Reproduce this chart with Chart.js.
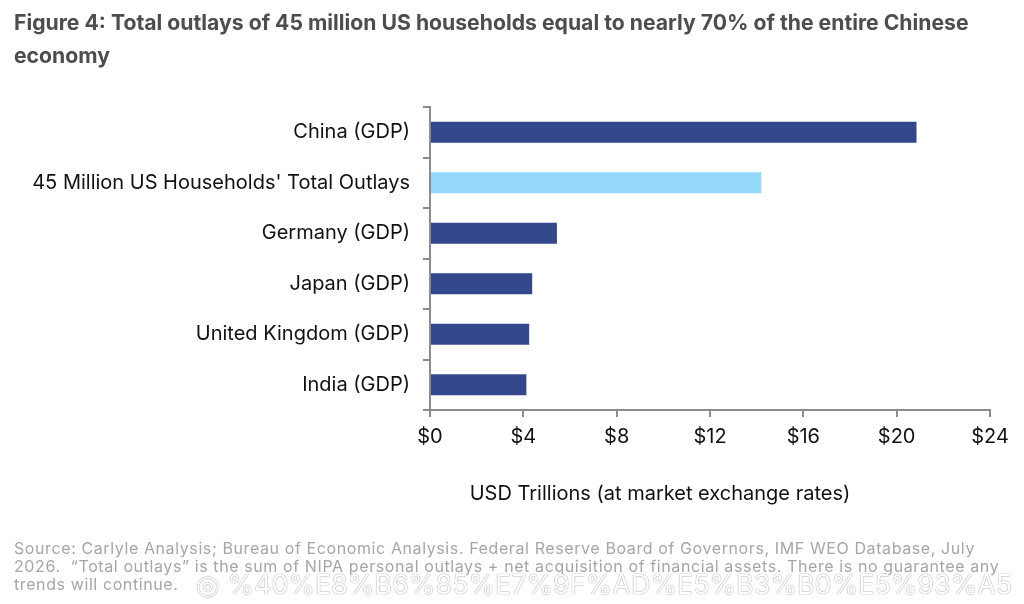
<!DOCTYPE html>
<html><head><meta charset="utf-8">
<script src="https://cdn.jsdelivr.net/npm/chart.js@4/dist/chart.umd.min.js"></script>
<style>
html,body{margin:0;padding:0;background:#fff;}
#wrap{position:relative;width:1024px;height:604px;overflow:hidden;font-family:Inter,"Noto Sans",sans-serif;}
#title{position:absolute;left:14px;top:6px;width:975px;font-size:21.2px;font-weight:700;color:#4d4d4d;line-height:33px;}
#xtitle{position:absolute;left:0;top:481px;width:1320px;text-align:center;font-size:20px;color:#111;}
#source{position:absolute;left:14px;top:539px;width:1000px;font-size:16px;letter-spacing:0.6px;color:#a6a6a6;line-height:18px;}
#wm{position:absolute;left:196px;top:568px;font-size:27px;color:#fff;text-shadow:0 0 1px #999,0 0 1px #999;white-space:nowrap;}
canvas{position:absolute;left:0;top:0;}
</style></head>
<body><div id="wrap">
<canvas id="c" width="1024" height="604"></canvas>
<div id="title">Figure 4: Total outlays of 45 million US households equal to nearly 70% of the entire Chinese economy</div>
<div id="xtitle">USD Trillions (at market exchange rates)</div>
<div id="source">Source: Carlyle Analysis; Bureau of Economic Analysis. Federal Reserve Board of Governors, IMF WEO Database, July 2026.&nbsp; “Total outlays” is the sum of NIPA personal outlays + net acquisition of financial assets. There is no guarantee any trends will continue.</div>
<div id="wm">◎ %40%E8%B6%85%E7%9F%AD%E5%B3%B0%E5%93%A5</div>
</div>
<script>
const categories = ["China (GDP)", "45 Million US Households' Total Outlays", "Germany (GDP)", "Japan (GDP)", "United Kingdom (GDP)", "India (GDP)"];
const values = [20.85, 14.2, 5.44, 4.38, 4.25, 4.13];
const barColors = ["#33488c", "#94d8fb", "#33488c", "#33488c", "#33488c", "#33488c"];
const xTicks = [0, 4, 8, 12, 16, 20, 24];

new Chart(document.getElementById('c'), {
  type: 'bar',
  data: { labels: categories, datasets: [{ data: values, backgroundColor: barColors, borderWidth: 0, barPercentage: 0.42, categoryPercentage: 1 }] },
  options: {
    indexAxis: 'y', responsive: false, animation: false,
    layout: { padding: { top: 107, right: 34, left: 0, bottom: 0 } },
    plugins: { legend: { display: false }, tooltip: { enabled: false } },
    scales: {
      x: {
        min: 0, max: 24,
        afterBuildTicks: s => { s.ticks = xTicks.map(v => ({ value: v })); },
        afterFit: s => { s.height = 194; },
        border: { color: '#8c8c8c', width: 2 },
        grid: { drawOnChartArea: false, drawTicks: true, tickLength: 7, color: '#8c8c8c', lineWidth: 2 },
        ticks: { color: '#111', font: { family: 'Inter', size: 20 }, padding: 8, maxRotation: 0, callback: v => '$' + v }
      },
      y: {
        afterFit: s => { s.width = 430; },
        border: { color: '#8c8c8c', width: 2 },
        grid: { drawOnChartArea: false, drawTicks: true, tickLength: 7, color: '#8c8c8c', lineWidth: 2, offset: true },
        ticks: { color: '#111', font: { family: 'Inter', size: 20 }, padding: 13 }
      }
    }
  }
});
</script>
</body></html>
